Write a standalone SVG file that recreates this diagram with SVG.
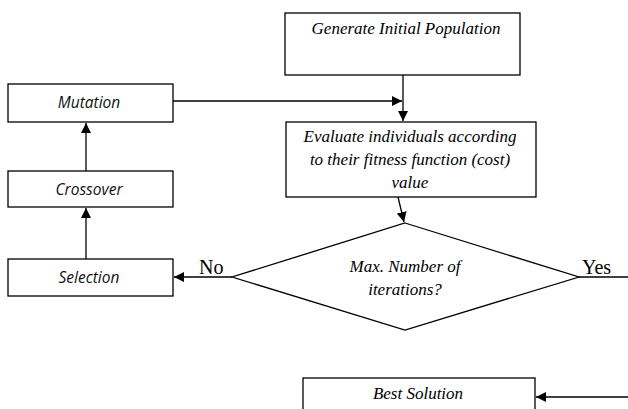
<svg xmlns="http://www.w3.org/2000/svg" width="628" height="409" viewBox="0 0 628 409">
<defs>
<marker id="ah" viewBox="0 0 10 10" refX="10" refY="5" markerWidth="10" markerHeight="10" markerUnits="userSpaceOnUse" orient="auto">
<path d="M0,0 L10,5 L0,10 z" fill="#000"/>
</marker>
<style>
.box{fill:#fff;stroke:#000;stroke-width:1.3}
.ser{font-family:"Liberation Serif","DejaVu Serif",serif;font-style:italic;font-size:17px;fill:#000;text-anchor:middle}
.sans{font-family:"Open Sans","Liberation Sans",sans-serif;font-style:italic;font-size:15.5px;fill:#111;text-anchor:middle}
.lbl{font-family:"Liberation Serif",serif;font-size:20px;fill:#000}
.ln{stroke:#000;stroke-width:1.3;fill:none}
</style>
</defs>
<rect width="628" height="409" fill="#fff"/>
<g id="generate"><rect class="box" x="285" y="13" width="235" height="62"/><text class="ser" x="406" y="34">Generate Initial Population</text></g>
<g id="evaluate"><rect class="box" x="286" y="122" width="250" height="75"/>
<text class="ser" x="410" y="142">Evaluate individuals according</text>
<text class="ser" x="410" y="165">to their fitness function (cost)</text>
<text class="ser" x="410" y="188">value</text></g>
<g id="decision"><polygon class="box" points="405,223 579,277 405,330 232,277"/>
<text class="ser" x="405" y="272">Max. Number of</text>
<text class="ser" x="405" y="295">iterations?</text></g>
<g id="mutation"><rect class="box" x="8" y="84" width="165" height="38"/><text class="sans" x="89" y="108">Mutation</text></g>
<g id="crossover"><rect class="box" x="8" y="171" width="165" height="36"/><text class="sans" x="89" y="195">Crossover</text></g>
<g id="selection"><rect class="box" x="8" y="259" width="165" height="37"/><text class="sans" x="89" y="283">Selection</text></g>
<g id="best"><rect class="box" x="303" y="378" width="232" height="40"/><text class="ser" x="418" y="399">Best Solution</text></g>
<g id="connectors">
<line class="ln" x1="403" y1="75" x2="403" y2="121" marker-end="url(#ah)"/>
<line class="ln" x1="173" y1="101" x2="402" y2="101" marker-end="url(#ah)"/>
<line class="ln" x1="398" y1="197" x2="404" y2="222" marker-end="url(#ah)"/>
<line class="ln" x1="232" y1="277" x2="174" y2="277" marker-end="url(#ah)"/>
<line class="ln" x1="579" y1="277" x2="628" y2="277"/>
<line class="ln" x1="86" y1="171" x2="86" y2="123" marker-end="url(#ah)"/>
<line class="ln" x1="86" y1="259" x2="86" y2="208" marker-end="url(#ah)"/>
<line class="ln" x1="628" y1="397" x2="536" y2="397" marker-end="url(#ah)"/>
<text class="lbl" x="199" y="274">No</text>
<text class="lbl" x="582" y="274">Yes</text>
</g>
</svg>
